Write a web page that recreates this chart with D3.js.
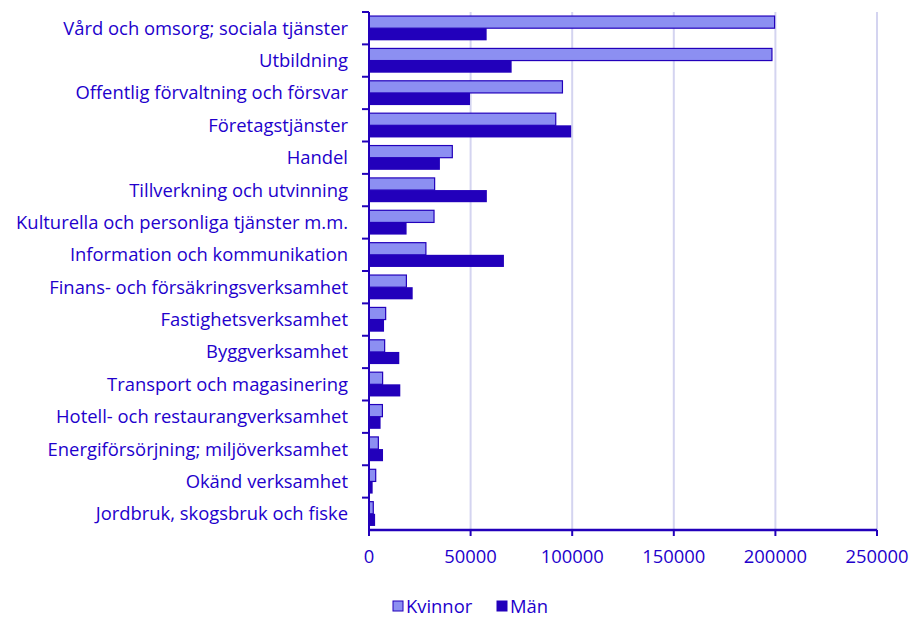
<!DOCTYPE html>
<html>
<head>
<meta charset="utf-8">
<script src="https://cdn.jsdelivr.net/npm/d3@7"></script>
<style>
  body { margin: 0; background: #fff; }
  svg text { font-family: "Open Sans", Lato, sans-serif; fill: #2200cc; }
</style>
</head>
<body>
<svg width="917" height="617"></svg>
<script>
var categories = [
    "Vård och omsorg; sociala tjänster",
    "Utbildning ",
    "Offentlig förvaltning och försvar",
    "Företagstjänster",
    "Handel",
    "Tillverkning och utvinning",
    "Kulturella och personliga tjänster m.m.",
    "Information och kommunikation",
    "Finans- och försäkringsverksamhet",
    "Fastighetsverksamhet",
    "Byggverksamhet",
    "Transport och magasinering",
    "Hotell- och restaurangverksamhet",
    "Energiförsörjning; miljöverksamhet",
    "Okänd verksamhet",
    "Jordbruk, skogsbruk och fiske"
];

var kvinnor = [199600, 198300, 95200, 91900, 41000, 32300, 32000, 28000, 18400, 8200, 7700, 6700, 6600, 4600, 3300, 2100];
var man = [57900, 70200, 49700, 99500, 34900, 58000, 18500, 66400, 21500, 7400, 14900, 15400, 5700, 6900, 1800, 3000];

var seriesNames = ["Kvinnor", "Män"];
var xTicks = [0, 50000, 100000, 150000, 200000, 250000];

var svg = d3.select("svg"),
    margin = { top: 12, right: 40, bottom: 87, left: 369 },
    width = +svg.attr("width") - margin.left - margin.right,
    height = +svg.attr("height") - margin.top - margin.bottom;

var dark = "#2200bb",
    light = "#8c8ff2",
    grid = "#d4d4f0",
    fs = "18.4px";

var x = d3.scaleLinear().domain([0, 250000]).range([0, 508]);
var y = d3.scaleBand().domain(categories).range([0, height]).paddingInner(0.25).paddingOuter(0.125);
var ySub = d3.scaleBand().domain(seriesNames).range([0, y.bandwidth()]);

var g = svg.append("g").attr("transform", "translate(" + margin.left + "," + margin.top + ")");

// gridlines
g.append("g")
    .selectAll("line")
    .data(xTicks.slice(1))
    .enter().append("line")
    .attr("x1", function (d) { return x(d); })
    .attr("x2", function (d) { return x(d); })
    .attr("y1", 0)
    .attr("y2", height)
    .attr("stroke", grid)
    .attr("stroke-width", 2);

var rows = categories.map(function (c, i) {
    return { cat: c, values: [kvinnor[i], man[i]] };
});

var row = g.append("g")
    .selectAll("g")
    .data(rows)
    .enter().append("g")
    .attr("transform", function (d) { return "translate(0," + y(d.cat) + ")"; });

row.selectAll("rect")
    .data(function (d) { return d.values.map(function (v, j) { return { name: seriesNames[j], value: v }; }); })
    .enter().append("rect")
    .attr("x", 0)
    .attr("y", function (d) { return ySub(d.name); })
    .attr("width", function (d) { return x(d.value); })
    .attr("height", ySub.bandwidth())
    .attr("fill", function (d) { return d.name == "Kvinnor" ? light : dark; })
    .attr("stroke", dark)
    .attr("stroke-width", function (d) { return d.name == "Kvinnor" ? 1.2 : 0; });

// y axis: ticks at category boundaries
var step = height / categories.length;
var yAxis = g.append("g");
yAxis.append("line")
    .attr("x1", 0).attr("x2", 0)
    .attr("y1", 0).attr("y2", height)
    .attr("stroke", dark).attr("stroke-width", 2);
yAxis.selectAll(".tick")
    .data(d3.range(categories.length))
    .enter().append("line")
    .attr("x1", -7).attr("x2", 0)
    .attr("y1", function (d) { return d * step; })
    .attr("y2", function (d) { return d * step; })
    .attr("stroke", dark).attr("stroke-width", 2);
yAxis.selectAll("text")
    .data(categories)
    .enter().append("text")
    .attr("x", -21)
    .attr("y", function (d, i) { return (i + 0.5) * step; })
    .attr("dy", "0.35em")
    .attr("text-anchor", "end")
    .style("font-size", fs)
    .text(function (d) { return d; });

// x axis
var xAxis = g.append("g").attr("transform", "translate(0," + height + ")");
xAxis.append("line")
    .attr("x1", 0).attr("x2", x(250000))
    .attr("stroke", dark).attr("stroke-width", 2.5);
xAxis.selectAll(".tick")
    .data(xTicks)
    .enter().append("line")
    .attr("x1", function (d) { return x(d); })
    .attr("x2", function (d) { return x(d); })
    .attr("y1", 0).attr("y2", 6)
    .attr("stroke", dark).attr("stroke-width", 2);
xAxis.selectAll("text")
    .data(xTicks)
    .enter().append("text")
    .attr("x", function (d) { return x(d); })
    .attr("y", 33)
    .attr("text-anchor", "middle")
    .style("font-size", fs)
    .text(function (d) { return d; });

// legend
var legend = svg.append("g").attr("transform", "translate(393,601)");
var li = legend.selectAll("g")
    .data(seriesNames)
    .enter().append("g")
    .attr("transform", function (d, i) { return "translate(" + (i * 104) + ",0)"; });
li.append("rect")
    .attr("width", 10).attr("height", 10)
    .attr("fill", function (d) { return d == "Kvinnor" ? light : dark; })
    .attr("stroke", dark)
    .attr("stroke-width", 1);
li.append("text")
    .attr("x", 13)
    .attr("y", 5)
    .attr("dy", "0.38em")
    .style("font-size", fs)
    .text(function (d) { return d; });
</script>
</body>
</html>
